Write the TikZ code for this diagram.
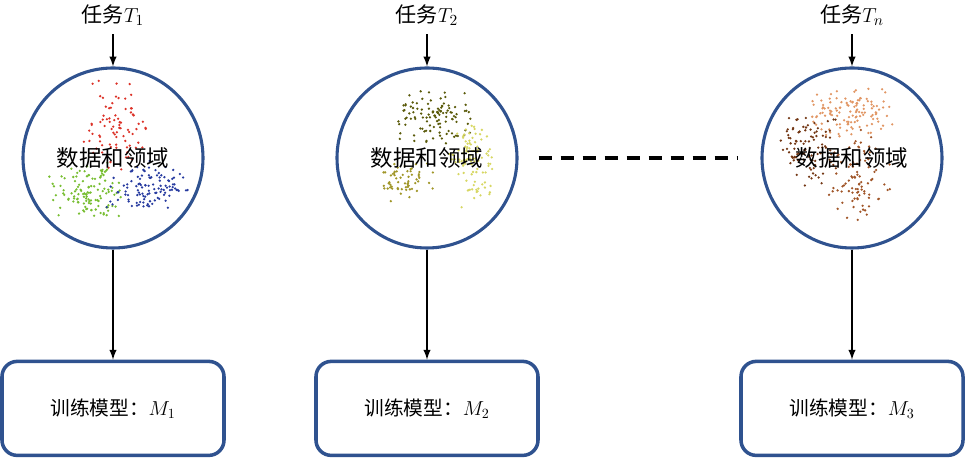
\documentclass[tikz,border=0pt]{standalone}
\usepackage{fontspec}
\newfontfamily\cjk{Noto Sans CJK SC}
\definecolor{ringblue}{RGB}{47,82,143}
\definecolor{ptred}{RGB}{220,50,40}
\definecolor{ptgreen}{RGB}{120,190,50}
\definecolor{ptblue}{RGB}{40,60,160}
\definecolor{ptolive}{RGB}{90,90,10}
\definecolor{ptyellow}{RGB}{215,215,100}
\definecolor{ptkhaki}{RGB}{160,150,40}
\definecolor{pttan}{RGB}{225,150,100}
\definecolor{ptbrown}{RGB}{115,55,20}
\definecolor{ptrust}{RGB}{160,85,40}
\tikzset{
  tasklbl/.style={inner sep=2pt,font=\fontsize{15}{17}\selectfont},
  datacirc/.style={circle,draw=ringblue,line width=2.2pt,minimum size=4.5cm,
    font=\fontsize{16}{18}\selectfont},
  modelbox/.style={rectangle,rounded corners=0.38cm,draw=ringblue,line width=2.5pt,
    minimum width=5.55cm,minimum height=2.35cm,font=\fontsize{14}{16}\selectfont},
  arr/.style={line width=1.4pt},
}
% cloud of dots: x, y, spread x, spread y, count, colour
\newcommand{\dotcloud}[6]{%
  \foreach \k in {1,...,#5} {
    \pgfmathsetmacro{\dx}{#3*(rand+rand)}
    \pgfmathsetmacro{\dy}{#4*(rand+rand)}
    \fill[#6] (#1+\dx,#2+\dy) circle (0.032);
  }}
\begin{document}
\begin{tikzpicture}[>=latex]
  \useasboundingbox (0,0) rectangle (24.15,11.5);
  \pgfmathsetseed{7}
  % domain 1
  \dotcloud{2.825}{8.3}{0.45}{0.65}{80}{ptred}
  \dotcloud{2.175}{6.7}{0.55}{0.38}{120}{ptgreen}
  \dotcloud{3.675}{6.83}{0.58}{0.34}{110}{ptblue}
  % domain 2
  \dotcloud{10.925}{8.57}{0.58}{0.42}{110}{ptolive}
  \dotcloud{11.745}{7.45}{0.3}{0.6}{100}{ptyellow}
  \dotcloud{10.175}{7.0}{0.37}{0.3}{60}{ptkhaki}
  % domain n
  \dotcloud{21.33}{8.67}{0.58}{0.34}{120}{pttan}
  \dotcloud{20.25}{7.83}{0.4}{0.55}{100}{ptbrown}
  \dotcloud{21.5}{7.07}{0.44}{0.62}{90}{ptrust}
  \foreach \i/\x/\t/\m in {1/2.825/T_1/M_1,2/10.675/T_2/M_2,3/21.3/T_n/M_3} {
    \node[tasklbl] (task\i) at (\x,11.12) {\cjk 任务$\t$};
    \node[datacirc] (data\i) at (\x,7.55) {\cjk 数据和领域};
    \node[modelbox] (model\i) at (\x,1.29) {\cjk 训练模型：$\m$};
    \draw[->,arr,shorten <=4pt] (task\i) -- (data\i);
    \draw[->,arr] (data\i) -- (model\i);
  }
  \draw[line width=2.2pt,dash pattern=on 0.33cm off 0.22cm]
    ([xshift=0.5cm]data2.east) -- ([xshift=-0.55cm]data3.west);
\end{tikzpicture}
\end{document}
